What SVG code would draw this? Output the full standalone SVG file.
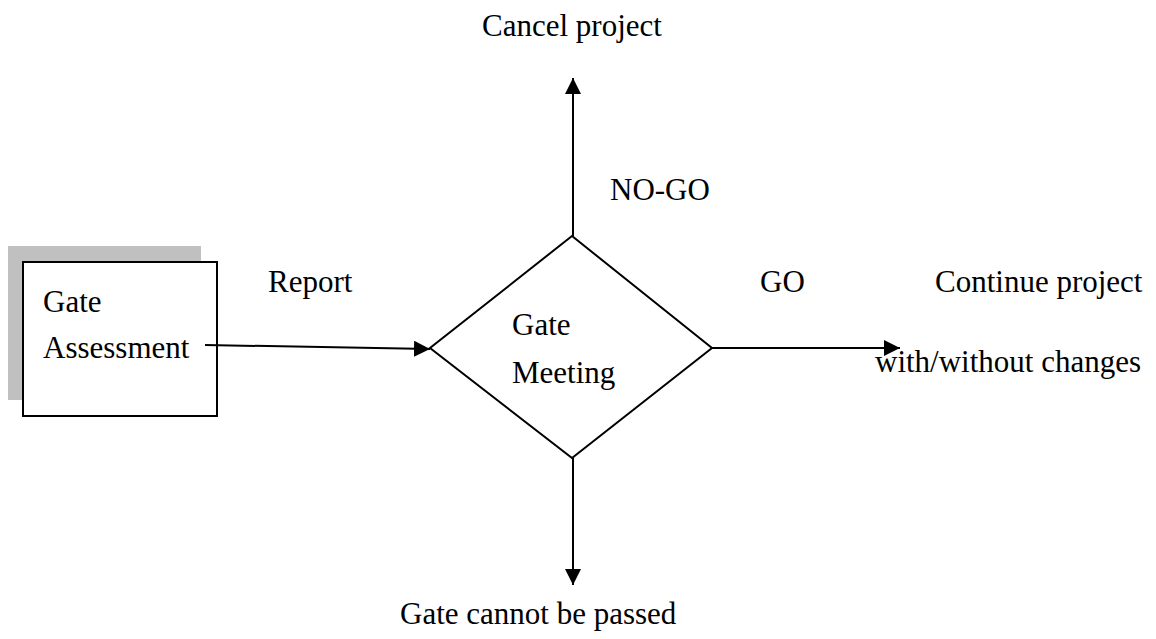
<svg xmlns="http://www.w3.org/2000/svg" width="1156" height="639" viewBox="0 0 1156 639">
<style>
text{font-family:'Liberation Serif','DejaVu Serif',serif;font-size:31px;fill:#000}
.ln{stroke:#000;stroke-width:2;fill:none}
</style>
<defs>
<marker id="ah" viewBox="0 0 16 16" refX="16" refY="8" markerWidth="16" markerHeight="16" markerUnits="userSpaceOnUse" orient="auto">
<path d="M0,0 L16,8 L0,16 Z" fill="#000"/>
</marker>
</defs>
<rect width="1156" height="639" fill="#fff"/>
<g id="assessment">
<rect x="8" y="246" width="193" height="154" fill="#c0c0c0"/>
<rect x="23" y="262" width="194" height="154" fill="#fff" stroke="#000" stroke-width="2"/>
<text x="43" y="312">Gate</text>
<text x="43" y="358">Assessment</text>
</g>
<g id="meeting">
<polygon points="572,236 712,348 572,458 430,348" fill="#fff" stroke="#000" stroke-width="2"/>
<text x="512" y="335">Gate</text>
<text x="512" y="383">Meeting</text>
</g>
<g id="connectors">
<line class="ln" x1="205" y1="345" x2="430" y2="349" marker-end="url(#ah)"/>
<line class="ln" x1="573" y1="236" x2="573" y2="78" marker-end="url(#ah)"/>
<line class="ln" x1="573" y1="458" x2="573" y2="585" marker-end="url(#ah)"/>
<line class="ln" x1="712" y1="348" x2="900" y2="348" marker-end="url(#ah)"/>
</g>
<g id="labels">
<text x="482" y="36">Cancel project</text>
<text x="610" y="200">NO-GO</text>
<text x="268" y="292">Report</text>
<text x="760" y="292">GO</text>
<text x="935" y="292">Continue project</text>
<text x="875" y="372">with/without changes</text>
<text x="400" y="624">Gate cannot be passed</text>
</g>
</svg>
